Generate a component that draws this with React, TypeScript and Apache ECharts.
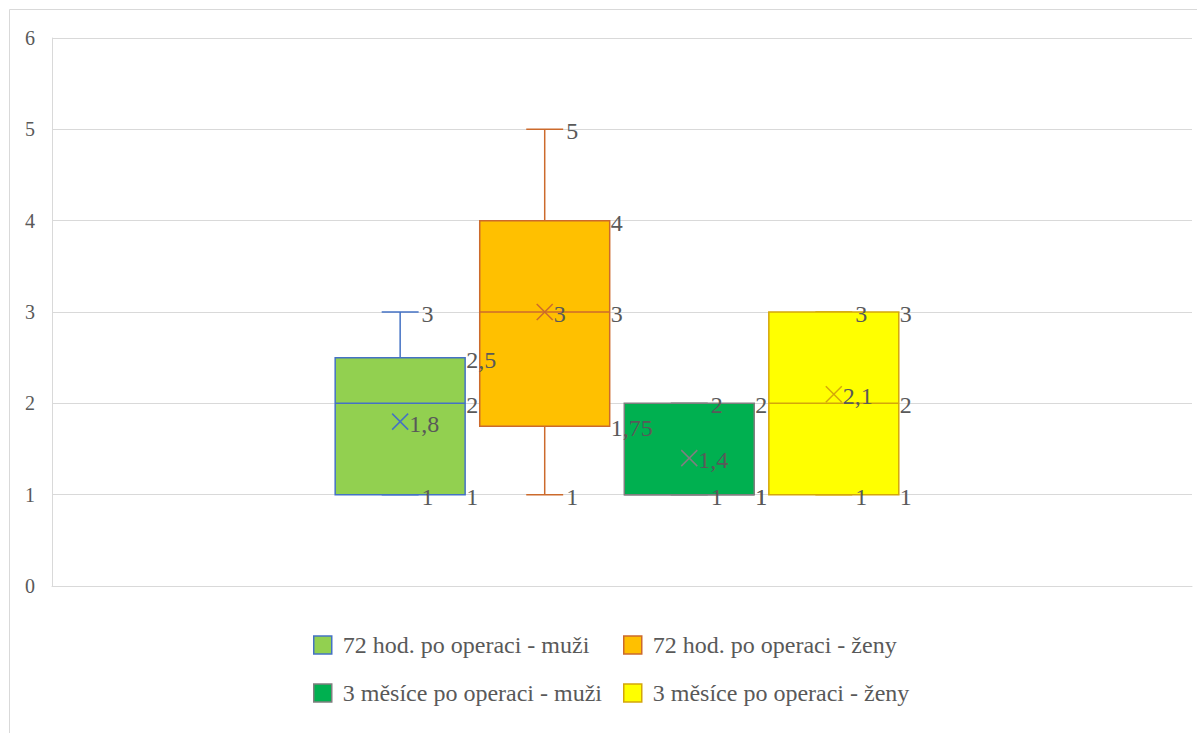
import React, { useEffect, useRef } from 'react';
import * as echarts from 'echarts';

const categories = [''];
const seriesNames = [
  '72 hod. po operaci - muži',
  '72 hod. po operaci - ženy',
  '3 měsíce po operaci - muži',
  '3 měsíce po operaci - ženy',
];
const minValues = [1, 1, 1, 1];
const q1Values = [1, 1.75, 1, 1];
const medianValues = [2, 3, 1, 2];
const q3Values = [2.5, 4, 2, 3];
const maxValues = [3, 5, 2, 3];
const meanValues = [1.8, 3, 1.4, 2.1];
const yTickMin = 0;
const yTickMax = 6;
const yTickStep = 1;

const fills = ['#92D050', '#FFC000', '#00B050', '#FFFF00'];
const borders = ['#4472C4', '#CC6A2C', '#7F7F7F', '#D4A60A'];

const FONT = '"Liberation Serif", "Times New Roman", serif';
const LABEL_COLOR = '#595959';

const fmt = (v: number) => String(v).replace('.', ',');

function geom(i: number, api: any) {
  const band = api.size([1, 0])[0];
  const center = api.coord([api.value(0), 0])[0];
  const cx = center + ((i - 1.5) * 0.1268 - 0.0044) * band;
  const bw = 0.114 * band;
  const cap = 0.0162 * band;
  const y = (v: number) => api.coord([api.value(0), v])[1];
  const vals = [1, 2, 3, 4, 5, 6].map((k) => api.value(k) as number);
  return { cx, bw, cap, y, vals };
}

const makeBoxRender = (i: number) => (params: any, api: any) => {
  const { cx, bw, cap, y, vals } = geom(i, api);
  const [mn, q1, md, q3, mx, mean] = vals;
  const stroke = borders[i];
  const lw = 1.5;
  const l = cx - bw / 2;
  const r = cx + bw / 2;
  const ln = (x1: number, y1: number, x2: number, y2: number) => ({
    type: 'line',
    shape: { x1, y1, x2, y2 },
    style: { stroke, lineWidth: lw },
  });
  const children: any[] = [];
  children.push(ln(cx, y(q3), cx, y(mx)));
  children.push(ln(cx, y(q1), cx, y(mn)));
  children.push(ln(cx - cap, y(mx), cx + cap, y(mx)));
  children.push(ln(cx - cap, y(mn), cx + cap, y(mn)));
  children.push({
    type: 'rect',
    shape: { x: l, y: y(q3), width: bw, height: y(q1) - y(q3) },
    style: { fill: fills[i], stroke, lineWidth: lw },
  });
  children.push(ln(l, y(md), r, y(md)));
  const ms = 8;
  const my = y(mean);
  children.push(ln(cx - ms, my - ms, cx + ms, my + ms));
  children.push(ln(cx - ms, my + ms, cx + ms, my - ms));
  return { type: 'group', children };
};

const makeLabelRender = (i: number) => (params: any, api: any) => {
  const { cx, bw, cap, y, vals } = geom(i, api);
  const [mn, q1, md, q3, mx, mean] = vals;
  const r = cx + bw / 2;
  const t = (x: number, v: number, val: number) => ({
    type: 'text',
    x,
    y: y(v) + 2,
    style: {
      text: fmt(val),
      fill: LABEL_COLOR,
      fontSize: 24,
      fontFamily: FONT,
      verticalAlign: 'middle',
      align: 'left',
    },
  });
  const wx = cx + cap + 3;
  const children: any[] = [
    t(wx, mx, mx),
    t(wx, mn, mn),
    t(r + 1, q3, q3),
    t(r + 1, md, md),
    t(r + 1, q1, q1),
    t(cx + 9, mean, mean),
  ];
  return { type: 'group', children };
};

export default function App() {
  const ref = useRef<HTMLDivElement>(null);
  useEffect(() => {
    if (!ref.current) return;
    const chart = echarts.init(ref.current, undefined, { renderer: 'svg' });
    const series: any[] = [];
    seriesNames.forEach((name, i) => {
      const data = [[0, minValues[i], q1Values[i], medianValues[i], q3Values[i], maxValues[i], meanValues[i]]];
      series.push({
        type: 'custom',
        name,
        renderItem: makeBoxRender(i),
        data,
        z: 2,
        clip: false,
        itemStyle: { color: fills[i], borderColor: borders[i] },
        encode: { x: 0, y: [1, 2, 3, 4, 5] },
      });
    });
    seriesNames.forEach((name, i) => {
      const data = [[0, minValues[i], q1Values[i], medianValues[i], q3Values[i], maxValues[i], meanValues[i]]];
      series.push({
        type: 'custom',
        name: name + ' (popisky)',
        renderItem: makeLabelRender(i),
        data,
        z: 5,
        clip: false,
        silent: true,
        encode: { x: 0, y: [1, 2, 3, 4, 5] },
      });
    });
    const legendItem = (i: number) => ({
      name: seriesNames[i],
      icon: 'rect',
      itemStyle: { color: fills[i], borderColor: borders[i], borderWidth: 1.5 },
    });
    const legendText = { fontSize: 24, fontFamily: FONT, color: LABEL_COLOR, padding: [0, 0, 0, 6] };
    chart.setOption({
      animation: false,
      backgroundColor: '#FFFFFF',
      textStyle: { fontFamily: FONT },
      graphic: [
        {
          type: 'rect',
          shape: { x: 9.5, y: 9.5, width: 1400, height: 900 },
          style: { fill: 'none', stroke: '#D9D9D9', lineWidth: 1 },
          silent: true,
        },
      ],
      grid: { left: 52, top: 38, right: 5, bottom: 147 },
      legend: [
        {
          left: 313,
          top: 633,
          orient: 'vertical',
          padding: 0,
          itemGap: 24,
          itemWidth: 18,
          itemHeight: 18,
          selectedMode: false,
          data: [legendItem(0), legendItem(2)],
          textStyle: legendText,
        },
        {
          left: 623,
          top: 633,
          orient: 'vertical',
          padding: 0,
          itemGap: 24,
          itemWidth: 18,
          itemHeight: 18,
          selectedMode: false,
          data: [legendItem(1), legendItem(3)],
          textStyle: legendText,
        },
      ],
      xAxis: {
        type: 'category',
        data: categories,
        axisLine: { show: true, lineStyle: { color: '#D9D9D9', width: 1 } },
        axisTick: { show: false },
        axisLabel: { show: false },
        splitLine: { show: false },
      },
      yAxis: {
        type: 'value',
        min: yTickMin,
        max: yTickMax,
        interval: yTickStep,
        axisLine: { show: true, lineStyle: { color: '#D9D9D9', width: 1 } },
        axisTick: { show: false },
        axisLabel: { color: LABEL_COLOR, fontSize: 20, fontFamily: FONT, margin: 17 },
        splitLine: { show: true, lineStyle: { color: '#D9D9D9', width: 1 } },
      },
      series,
    });
    return () => chart.dispose();
  }, []);
  return (
    <div
      ref={ref}
      style={{ position: 'absolute', left: 0, top: 0, width: 1197, height: 733 }}
    />
  );
}
